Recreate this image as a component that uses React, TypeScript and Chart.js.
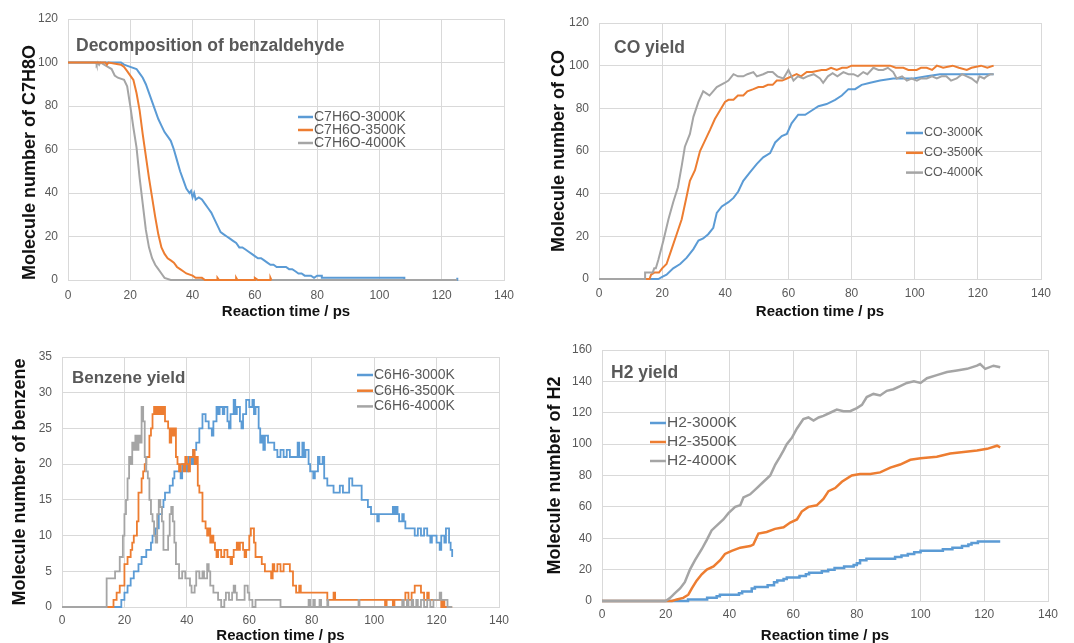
import React, { useEffect, useRef } from "react";
import { Chart, registerables } from "chart.js";

Chart.register(...registerables);

type Pt = [number, number];

const FONT = "'Liberation Sans', Arial, sans-serif";
const BLUE = "#5B9BD5";
const ORANGE = "#ED7D31";
const GRAY = "#A5A5A5";
const GRID = "#D9D9D9";
const TEXT_GRAY = "#595959";

const X_TITLE = "Reaction time / ps";

// ---------- Panel 1: decomposition of benzaldehyde ----------
const C7H6O_3000K: Pt[] = [
  [0, 100], [17, 100], [18, 99], [20, 98], [22, 97], [23, 95], [24, 93], [25, 90], [26, 86], [27, 82],
  [28, 78], [29, 74], [30, 71], [31, 68], [32, 66], [33, 64], [34, 60], [35, 55], [36, 50], [37, 46],
  [38, 42], [39, 40], [39.5, 41], [40, 38], [40.5, 40], [41, 37], [42, 38], [43, 37], [44, 35], [45, 33],
  [46, 31], [47, 28], [48, 25], [49, 22], [50, 21], [51, 20], [52, 19], [53, 18], [54, 17], [55, 15],
  [56, 15], [57, 14], [58, 13], [59, 12], [60, 11], [61, 10], [62, 10], [63, 9], [64, 8], [65, 7],
  [66, 7], [67, 6], [68, 6], [70, 6], [71, 5], [72, 5], [73, 4], [74, 3], [75, 3], [76, 2],
  [78, 2], [79, 1], [80, 2], [81.5, 2], [81.5, 1], [108, 1], [108, 0], [125, 0], [125, 1],
];
const C7H6O_3500K: Pt[] = [
  [0, 100], [12, 100], [12.5, 99], [13, 100], [17, 99], [18, 98], [19, 96], [20, 94], [21, 92], [22, 86],
  [23, 78], [24, 67], [25, 57], [26, 47], [27, 38], [28, 29], [29, 21], [30, 15], [31, 12], [32, 10],
  [33, 9], [34, 8], [35, 6], [36, 5], [37, 4], [38, 3], [40, 2], [41, 1], [43, 1], [44, 0],
  [48, 0], [48, 1], [48.5, 0], [54, 0], [54, 1], [54.4, 0], [60, 0], [60, 1], [61, 0],
  [65, 0], [65, 1], [65.3, 0],
];
const C7H6O_4000K: Pt[] = [
  [0, 100], [9, 100], [9.2, 99], [9.6, 100], [10, 99], [10.4, 100], [14, 97], [15, 94], [16, 93], [18, 92],
  [19, 89], [20, 80], [21, 70], [22, 61], [23, 47], [24, 35], [25, 23], [26, 15], [27, 10], [28, 7],
  [29, 5], [30, 3], [31, 1], [33, 0], [125, 0],
];

// ---------- Panel 2: CO yield ----------
const CO_3000K: Pt[] = [
  [0, 0], [18.8, 0], [20, 1], [21.4, 2], [23.5, 5], [25.7, 7], [27.8, 10], [29.9, 14], [31.5, 18], [33, 19],
  [34.6, 21], [36.2, 24], [37.3, 31], [38.9, 34], [41, 36], [42.6, 38], [44.1, 41], [45.7, 46], [47.8, 50],
  [50, 54], [52, 57], [54.2, 59], [55.8, 64], [57.9, 67], [59.5, 68], [61, 73], [63.1, 77], [65.3, 77],
  [67.4, 79], [69.5, 81], [72.1, 82], [74.8, 84], [76.9, 86], [79, 89], [81.1, 89], [83.2, 91], [85.9, 92],
  [89, 93], [93.2, 94], [96.4, 94], [99.6, 94], [103.8, 95], [108, 96], [125, 96],
];
const CO_3500K: Pt[] = [
  [0, 0], [16, 0], [16.5, 2], [17.5, 3], [19, 3], [20, 5], [21.4, 7], [23, 14], [24.6, 21], [26.2, 28],
  [27.8, 39], [28.8, 46], [30.4, 51], [32, 60], [33.6, 65], [35.2, 70], [36.7, 75], [38.3, 79], [39.9, 83],
  [41, 84], [42.6, 84], [44, 86], [45.7, 86], [47, 88], [48.9, 89], [50.5, 90], [52, 90], [53.5, 91],
  [55, 91], [56.3, 93], [58, 93], [59.5, 94], [61, 95], [62.6, 96], [64, 95], [65.8, 97], [67.5, 97],
  [69, 97.5], [70.5, 98], [72, 98], [73.5, 99], [75.3, 98], [77, 99], [78.5, 99], [80, 100], [84, 100],
  [88, 100], [92.2, 100], [94, 99], [96.4, 99], [98, 98], [100.6, 98], [102, 99], [103.8, 99], [105.5, 98],
  [107, 100], [109, 99], [112, 100], [114, 99], [116.5, 98], [118, 99], [121, 100], [123, 99], [125, 100],
];
const CO_4000K: Pt[] = [
  [0, 0], [14.6, 0], [14.6, 3], [17, 3], [17.5, 5], [18, 5], [18.8, 9], [20.4, 18], [22, 28], [23.5, 36],
  [25, 43], [26.2, 53], [27.2, 62], [28.8, 68], [29.9, 76], [31.5, 83], [33, 88], [34, 87], [35, 86],
  [37.3, 90], [39.9, 92], [41, 93], [42.6, 96], [44, 95], [45.7, 95], [47, 96], [48.9, 97], [50, 95],
  [52, 96], [53.5, 97], [55, 97], [56.5, 95], [58.4, 94], [60, 98], [61.6, 93], [63, 95], [64.7, 94],
  [66, 95], [68, 96], [70, 94], [71, 92], [72.5, 95], [74, 96.5], [75.5, 95], [77.4, 97], [79, 96],
  [80.6, 96], [82, 95], [83.7, 97], [85, 96], [86.9, 99], [88.5, 98], [90, 98], [91.5, 99], [93.2, 97],
  [94.3, 94], [96, 95], [97.5, 93], [99, 94], [100.7, 93], [102, 94], [103.8, 94], [105.5, 95], [107, 94],
  [108.5, 95], [110, 95], [111.5, 93], [113.3, 94], [115, 96], [116.5, 95], [118, 94], [119.7, 92],
  [120.5, 95], [122, 94], [122.8, 95], [124, 96], [125, 96],
];

// ---------- Panel 3: benzene yield (step data) ----------
const C6H6_3000K: Pt[] = [
  [0, 0], [19, 1], [20, 2], [21, 3], [22, 4], [23, 5], [24.5, 6], [25.5, 7], [27, 8], [28.5, 9],
  [29, 10], [30, 11], [31, 13], [32, 14], [32.5, 15], [33, 16], [34.5, 17], [35.5, 18], [36, 19], [38, 18],
  [38.5, 20], [40, 19], [40.5, 21], [41.5, 20], [42, 22], [43, 23], [44, 25], [45, 27], [46, 26], [47, 25],
  [48, 24], [48.5, 26], [49.5, 28], [50, 27], [50.5, 28], [51.5, 27], [52, 28], [53, 26], [53.5, 25],
  [54, 27], [55, 29], [55.5, 27], [56, 28], [57, 26], [57.5, 25], [58, 27], [59, 29], [60, 28], [61, 29],
  [61.5, 27], [62, 28], [63, 25], [63.5, 23], [64, 24], [64.5, 22], [65, 24], [66, 23], [68, 22], [69, 21],
  [70, 22], [71, 21], [72, 22], [73, 21], [75.5, 23], [76, 21], [77, 23], [77.5, 21], [78, 22], [79, 20],
  [79.5, 19], [80.5, 18], [81, 19], [82, 21], [82.5, 20], [83.5, 21], [84, 18], [85, 17], [87, 16],
  [89, 17], [90, 16], [92, 18], [93, 17], [96, 15], [98, 14], [99, 13], [101, 12], [101.5, 13],
  [106, 14], [106.5, 13], [107, 14], [107.5, 13], [108, 12], [109, 13], [109.5, 12], [110, 11], [113, 10],
  [114, 11], [115, 10], [116, 11], [117, 10], [118, 9], [118.5, 10], [120, 9], [121, 8], [121.5, 10],
  [122.5, 9], [123, 11], [124, 9], [124.5, 8], [125, 7],
];
const C6H6_3500K: Pt[] = [
  [0, 0], [16.5, 1], [17.5, 2], [18.5, 3], [20, 6], [21, 7], [22, 8], [22.5, 9], [23, 10], [24, 12],
  [24.5, 16], [25.5, 18], [26, 19], [26.5, 20], [27, 21], [28, 24], [28.5, 25], [29, 27], [29.5, 28],
  [30, 27], [30.5, 28], [31, 27], [31.5, 28], [32, 27], [32.5, 28], [33, 26], [34, 25], [34.5, 23],
  [35, 25], [35.5, 24], [36, 25], [36.5, 21], [37, 20], [37.5, 19], [38, 20], [39, 19], [39.5, 21],
  [40, 20], [40.5, 19], [41, 21], [42, 22], [42.5, 20], [43, 21], [43.5, 17], [44, 16], [45, 12],
  [46, 11], [46.5, 10], [47, 11], [47.5, 9], [48, 10], [48.5, 9], [49, 8], [49.5, 7], [50, 8], [51, 7],
  [52, 8], [53, 7], [54, 6], [54.5, 7], [55, 8], [56, 9], [56.5, 8], [57, 9], [58, 8], [58.5, 7], [59, 8],
  [60, 10], [60.5, 11], [61.5, 9], [62, 7], [64, 6], [65, 5], [67, 4], [67.5, 6], [68, 5], [69, 6],
  [70, 5], [71, 6], [73, 5], [74, 3], [75, 2], [76, 3], [76.5, 2], [85, 1], [87, 2], [87.5, 1],
  [103, 1], [103.5, 0], [104, 1], [106, 0], [106.5, 1], [110, 2], [111, 1], [112, 2], [113, 3],
  [115, 2], [116, 1], [117, 2], [117.5, 1], [121.5, 0], [122, 1], [122.5, 0], [125, 0],
];
const C6H6_4000K: Pt[] = [
  [0, 0], [14.3, 4], [17, 5], [18.5, 7], [19.5, 10], [20, 13], [20.5, 15], [21, 18], [21.5, 21],
  [22, 20], [22.5, 23], [23, 22], [23.5, 24], [24, 22], [24.5, 24], [25, 23], [25.5, 28], [26, 26],
  [26.5, 21], [27, 19], [27.5, 18], [28, 15], [28.5, 13], [29, 12], [29.5, 10], [30, 9], [30.5, 13],
  [31, 15], [31.5, 14], [32, 12], [32.5, 8], [34, 10], [34.5, 13], [35, 14], [35.5, 12], [36, 9],
  [36.5, 6], [37.5, 4], [38.5, 5], [39.5, 4], [41, 3], [41.5, 2], [42.5, 3], [43, 5], [44, 4], [45, 5],
  [45.5, 4], [46.5, 6], [47, 5], [47.5, 3], [48.5, 2], [50, 1], [51, 0], [52, 1], [52.5, 2], [53.5, 1],
  [54.5, 2], [55, 3], [55.5, 2], [56, 1], [58.5, 3], [59.5, 2], [60, 1], [61, 0], [62, 1], [70, 0],
  [79, 1], [79.5, 0], [80.5, 1], [81, 0], [82.5, 1], [83, 0], [85, 1], [85.3, 0], [95, 1], [95.3, 0],
  [109, 1], [109.5, 0], [110.5, 1], [111, 0], [112, 1], [112.5, 0], [113.5, 1], [114, 0], [115, 1],
  [116, 0], [117, 1], [118, 0], [119, 1], [121, 2], [121.5, 1], [123.5, 0], [125, 0],
];

// ---------- Panel 4: H2 yield ----------
const H2_3000K: Pt[] = [
  [0, 0], [27, 1], [33, 2], [36, 3], [37, 4], [43, 5], [44, 6], [47, 8], [48, 9], [52, 10], [54, 12],
  [55, 13], [57, 14], [58, 15], [62, 16], [64, 17], [65, 18], [69, 19], [71, 20], [73, 21], [76, 22],
  [79, 23], [80, 24], [81, 26], [83, 27], [92, 28], [94, 29], [96, 30], [98, 31], [100, 32], [107, 33],
  [110, 34], [113, 35], [115, 36], [116, 37], [118, 38], [125, 38],
];
const H2_3500K: Pt[] = [
  [0, 0], [22, 0], [23.5, 1], [25.5, 2], [27.1, 4], [28.2, 8], [29.7, 13], [31.3, 17], [32.9, 20],
  [35, 22], [37.1, 26], [38.6, 30], [40.7, 32], [43.4, 34], [46.5, 35], [47.5, 36], [49.1, 43],
  [51.7, 44], [54.3, 46], [57, 47], [59.1, 50], [61.2, 52], [62.7, 57], [64.8, 60], [67.4, 61],
  [69.5, 65], [71.1, 70], [73.2, 72], [75.3, 76], [78.4, 80], [81, 81], [84.2, 81], [87.3, 82],
  [90.5, 85], [93.6, 87], [96.8, 90], [100, 91], [105.1, 92], [109.3, 94], [113.5, 95], [117.7, 96],
  [120.9, 97], [124, 99], [125, 98],
];
const H2_4000K: Pt[] = [
  [0, 0], [20, 0], [21.4, 2], [22.9, 5], [24.5, 8], [26, 12], [27.6, 20], [29.2, 26], [31.3, 33],
  [32.9, 39], [34.4, 45], [36.5, 49], [38.1, 52], [39.7, 56], [41.8, 60], [43.4, 61], [44.4, 66],
  [46.5, 68], [48.6, 72], [50.7, 76], [52.8, 80], [54.4, 87], [55.9, 92], [57, 96], [58, 100],
  [59.6, 104], [61.2, 110], [63.2, 116], [64.8, 117], [66.4, 115], [68, 117], [69.5, 118], [71.6, 120],
  [73.7, 122], [75.8, 121], [77.9, 121], [80, 123], [81.6, 125], [83.1, 130], [85.2, 132], [87.3, 131],
  [89.4, 134], [91.5, 135], [93.6, 137], [95.7, 139], [97.9, 140], [100, 139], [102, 142], [105.1, 144],
  [108.3, 146], [111.4, 147], [114.6, 148], [117.7, 150], [118.7, 151], [120.3, 148], [122.9, 150],
  [125, 149],
];

interface SeriesSpec {
  label: string;
  data: Pt[];
  color: string;
  order: number;
  stepped?: boolean;
}

interface PanelSpec {
  key: string;
  left: number;
  top: number;
  width: number;
  height: number;
  pad: { top: number; right: number; bottom: number };
  yWidth: number;
  xHeight: number;
  xTickPad: number;
  xTitlePad: number;
  yMax: number;
  yStep: number;
  yTitle: string;
  yTitlePad: number;
  yTitleAlign: "start" | "center" | "end";
  title: string;
  titleX: number;
  titleY: number;
  titleSize: number;
  legendX: number;
  legendY: number;
  legendGap: number;
  legendLen: number;
  legendSize: number;
  lineWidth: number;
  series: SeriesSpec[];
}

const PANELS: PanelSpec[] = [
  {
    key: "p1", left: 0, top: 0, width: 537, height: 321,
    pad: { top: 19, right: 33, bottom: 0 }, yWidth: 68, xHeight: 41, xTickPad: 8, xTitlePad: 0,
    yMax: 120, yStep: 20, yTitle: "Molecule number of C7H8O", yTitlePad: 19, yTitleAlign: "start",
    title: "Decomposition of benzaldehyde", titleX: 76, titleY: 46, titleSize: 17.5,
    legendX: 298, legendY: 117, legendGap: 13, legendLen: 15, legendSize: 14, lineWidth: 2,
    series: [
      { label: "C7H6O-3000K", data: C7H6O_3000K, color: BLUE, order: 3 },
      { label: "C7H6O-3500K", data: C7H6O_3500K, color: ORANGE, order: 1 },
      { label: "C7H6O-4000K", data: C7H6O_4000K, color: GRAY, order: 2 },
    ],
  },
  {
    key: "p2", left: 537, top: 0, width: 537, height: 321,
    pad: { top: 23, right: 33, bottom: 0 }, yWidth: 62, xHeight: 42, xTickPad: 7, xTitlePad: 0,
    yMax: 120, yStep: 20, yTitle: "Molecule number of CO", yTitlePad: 11, yTitleAlign: "center",
    title: "CO yield", titleX: 77, titleY: 48, titleSize: 17.5,
    legendX: 369, legendY: 133, legendGap: 19.8, legendLen: 17, legendSize: 12.5, lineWidth: 2,
    series: [
      { label: "CO-3000K", data: CO_3000K, color: BLUE, order: 3 },
      { label: "CO-3500K", data: CO_3500K, color: ORANGE, order: 2 },
      { label: "CO-4000K", data: CO_4000K, color: GRAY, order: 1 },
    ],
  },
  {
    key: "p3", left: 0, top: 321, width: 537, height: 322,
    pad: { top: 36, right: 38, bottom: 0 }, yWidth: 62, xHeight: 36, xTickPad: 6, xTitlePad: -2,
    yMax: 35, yStep: 5, yTitle: "Molecule number of benzene", yTitlePad: 9, yTitleAlign: "center",
    title: "Benzene yield", titleX: 72, titleY: 57, titleSize: 17,
    legendX: 357, legendY: 54, legendGap: 15.7, legendLen: 16, legendSize: 14, lineWidth: 1.8,
    series: [
      { label: "C6H6-3000K", data: C6H6_3000K, color: BLUE, order: 3, stepped: true },
      { label: "C6H6-3500K", data: C6H6_3500K, color: ORANGE, order: 2, stepped: true },
      { label: "C6H6-4000K", data: C6H6_4000K, color: GRAY, order: 1, stepped: true },
    ],
  },
  {
    key: "p4", left: 537, top: 321, width: 537, height: 322,
    pad: { top: 29, right: 26, bottom: 0 }, yWidth: 65, xHeight: 42, xTickPad: 6, xTitlePad: -2,
    yMax: 160, yStep: 20, yTitle: "Molecule number of H2", yTitlePad: 7.5, yTitleAlign: "center",
    title: "H2 yield", titleX: 74, titleY: 52, titleSize: 17.5,
    legendX: 113, legendY: 102, legendGap: 19, legendLen: 16, legendSize: 15.5, lineWidth: 2.5,
    series: [
      { label: "H2-3000K", data: H2_3000K, color: BLUE, order: 3, stepped: true },
      { label: "H2-3500K", data: H2_3500K, color: ORANGE, order: 2 },
      { label: "H2-4000K", data: H2_4000K, color: GRAY, order: 1 },
    ],
  },
];

function overlayPlugin(spec: PanelSpec) {
  return {
    id: "overlay_" + spec.key,
    afterDraw(chart: any) {
      const ctx: CanvasRenderingContext2D = chart.ctx;
      ctx.save();
      ctx.textAlign = "left";
      ctx.textBaseline = "middle";
      ctx.font = `bold ${spec.titleSize}px ${FONT}`;
      ctx.fillStyle = TEXT_GRAY;
      ctx.fillText(spec.title, spec.titleX, spec.titleY);
      chart.data.datasets.forEach((ds: any, i: number) => {
        const y = spec.legendY + i * spec.legendGap;
        ctx.strokeStyle = ds.borderColor;
        ctx.lineWidth = 2.5;
        ctx.beginPath();
        ctx.moveTo(spec.legendX, y);
        ctx.lineTo(spec.legendX + spec.legendLen, y);
        ctx.stroke();
        ctx.font = `${spec.legendSize}px ${FONT}`;
        ctx.fillStyle = TEXT_GRAY;
        ctx.fillText(ds.label, spec.legendX + spec.legendLen + 1, y);
      });
      ctx.restore();
    },
  };
}

function Panel({ spec }: { spec: PanelSpec }) {
  const ref = useRef<HTMLCanvasElement | null>(null);
  useEffect(() => {
    if (!ref.current) return;
    const chart = new Chart(ref.current, {
      type: "line",
      data: {
        datasets: spec.series.map((s) => ({
          label: s.label,
          data: s.data.map(([x, y]) => ({ x, y })),
          borderColor: s.color,
          backgroundColor: s.color,
          borderWidth: spec.lineWidth,
          pointRadius: 0,
          tension: 0,
          stepped: s.stepped ? "before" : false,
          order: s.order,
          clip: false as any,
          fill: false,
        })),
      },
      options: {
        animation: false,
        responsive: false,
        events: [],
        layout: { padding: { left: 0, top: spec.pad.top, right: spec.pad.right, bottom: spec.pad.bottom } },
        plugins: { legend: { display: false }, tooltip: { enabled: false } },
        scales: {
          x: {
            type: "linear",
            min: 0,
            max: 140,
            ticks: { stepSize: 20, padding: spec.xTickPad, color: TEXT_GRAY, font: { family: FONT, size: 12 }, maxRotation: 0 },
            grid: { color: GRID, drawTicks: false, lineWidth: 1 },
            border: { color: GRID },
            title: {
              display: true,
              text: X_TITLE,
              color: "#111",
              font: { family: FONT, size: 15, weight: "bold" },
              padding: { top: 0, bottom: spec.xTitlePad },
            },
            afterFit: (s: any) => {
              s.height = spec.xHeight;
            },
          },
          y: {
            type: "linear",
            min: 0,
            max: spec.yMax,
            ticks: { stepSize: spec.yStep, padding: 10, color: TEXT_GRAY, font: { family: FONT, size: 12 } },
            grid: { color: GRID, drawTicks: false, lineWidth: 1 },
            border: { color: GRID },
            title: {
              display: true,
              text: spec.yTitle,
              color: "#111",
              align: spec.yTitleAlign,
              font: { family: FONT, size: 18, weight: "bold" },
              padding: { top: spec.yTitlePad, bottom: 0 },
            },
            afterFit: (s: any) => {
              s.width = spec.yWidth;
            },
          },
        },
      } as any,
      plugins: [overlayPlugin(spec)],
    });
    return () => chart.destroy();
  }, [spec]);
  return (
    <canvas
      ref={ref}
      width={spec.width}
      height={spec.height}
      style={{ position: "absolute", left: spec.left, top: spec.top, width: spec.width, height: spec.height }}
    />
  );
}

export default function App() {
  return (
    <div style={{ position: "absolute", left: 0, top: 0, width: 1074, height: 643, background: "#fff", overflow: "hidden" }}>
      {PANELS.map((p) => (
        <Panel key={p.key} spec={p} />
      ))}
    </div>
  );
}
